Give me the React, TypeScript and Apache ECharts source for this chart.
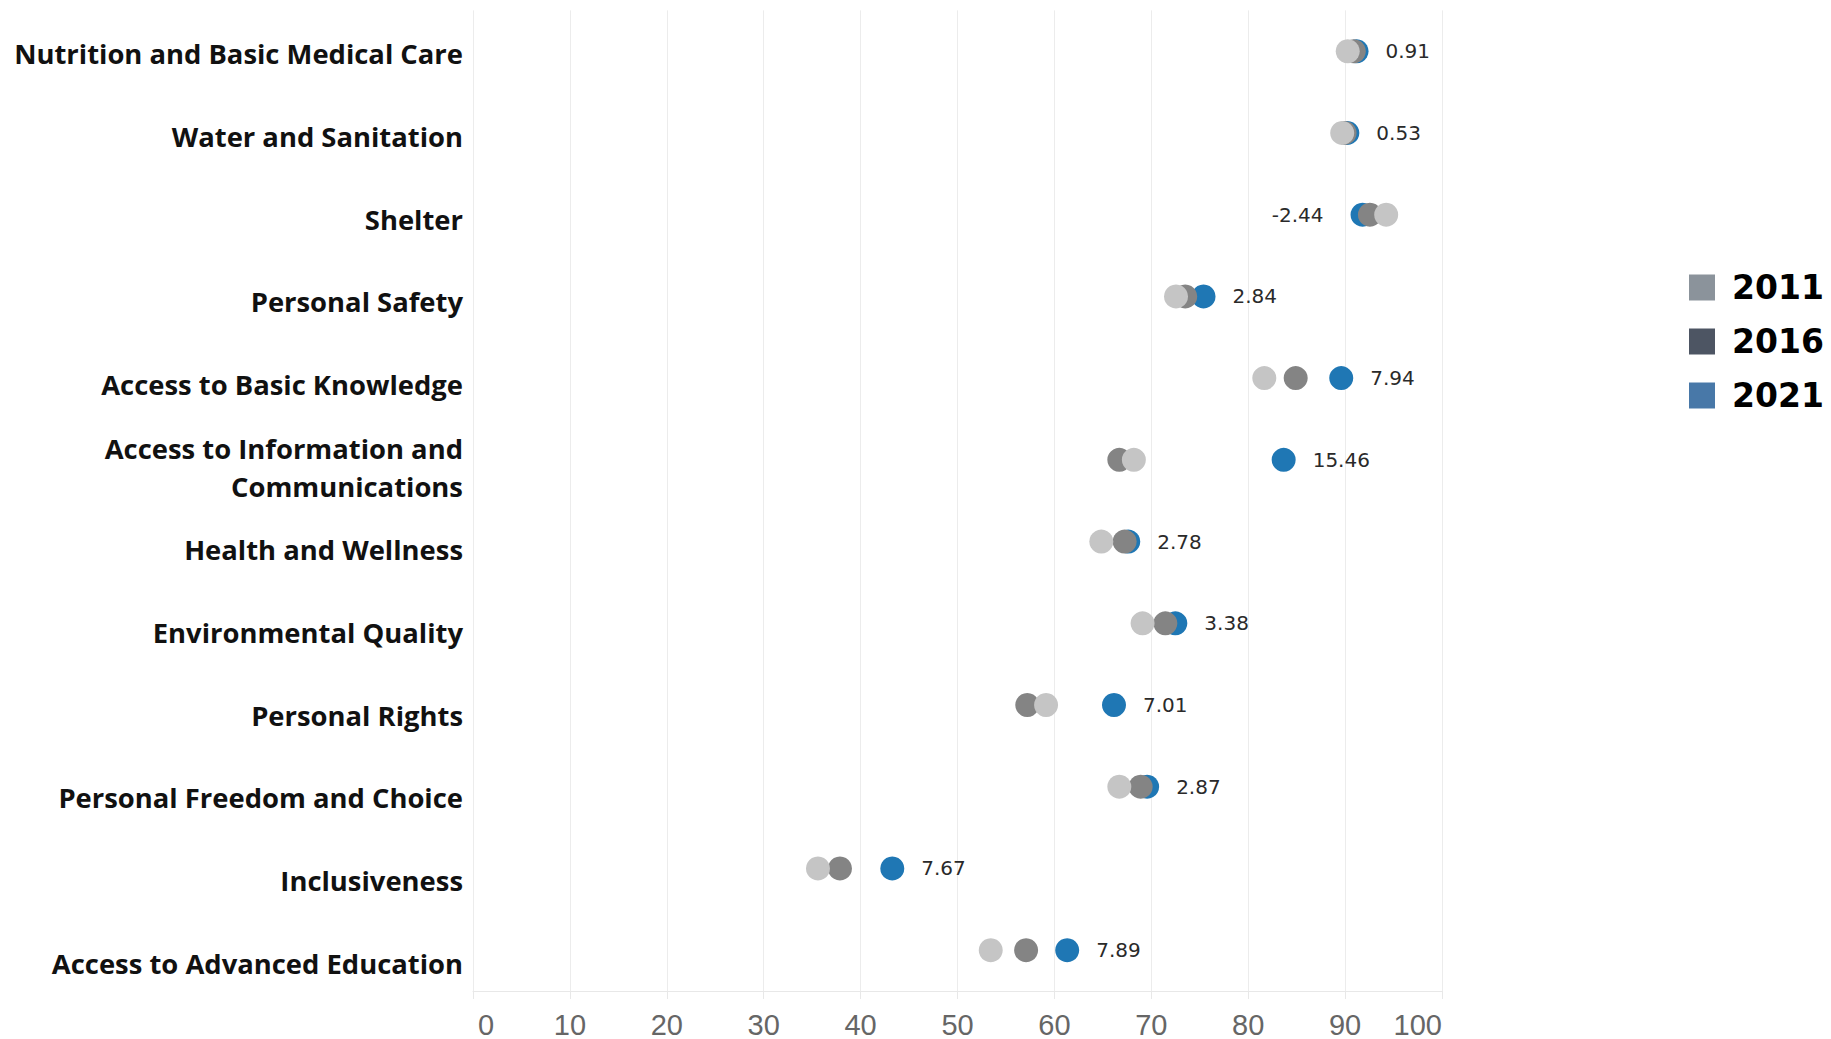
import React, { useEffect, useRef } from "react";
import * as echarts from "echarts";

const categories: string[] = [
  "Nutrition and Basic Medical Care",
  "Water and Sanitation",
  "Shelter",
  "Personal Safety",
  "Access to Basic Knowledge",
  "Access to Information and\nCommunications",
  "Health and Wellness",
  "Environmental Quality",
  "Personal Rights",
  "Personal Freedom and Choice",
  "Inclusiveness",
  "Access to Advanced Education",
];

const values2011: number[] = [90.27, 89.7, 94.24, 72.55, 81.66, 68.2, 64.84, 69.1, 59.14, 66.7, 35.6, 53.43];
const values2016: number[] = [90.9, 89.95, 92.56, 73.5, 84.9, 66.7, 67.25, 71.45, 57.2, 68.9, 37.87, 57.08];
const values2021: number[] = [91.18, 90.23, 91.8, 75.39, 89.6, 83.66, 67.62, 72.48, 66.15, 69.57, 43.27, 61.32];
const changeLabels: string[] = ["0.91", "0.53", "-2.44", "2.84", "7.94", "15.46", "2.78", "3.38", "7.01", "2.87", "7.67", "7.89"];

const years: string[] = ["2011", "2016", "2021"];
const dotColors: string[] = ["#c5c5c5", "#848484", "#1f77b4"];
const legendColors: string[] = ["#8b939b", "#4d5563", "#4878a8"];
const xTicks: number[] = [0, 10, 20, 30, 40, 50, 60, 70, 80, 90, 100];

export default function App() {
  const ref = useRef<HTMLDivElement>(null);

  useEffect(() => {
    document.body.style.margin = "0";
    if (!ref.current) return;
    const chart = echarts.init(ref.current, undefined, { renderer: "svg" });

    const seriesFor = (idx: number) => {
      const vals = [values2011, values2016, values2021][idx];
      const base: any = {
        name: years[idx],
        type: "scatter",
        xAxisIndex: 0,
        yAxisIndex: 0,
        symbol: "circle",
        symbolSize: 24,
        itemStyle: { color: dotColors[idx], opacity: 1 },
        emphasis: { disabled: true },
        data: vals.map((v, i) => [v, categories[i]]),
      };
      if (idx === 2) {
        base.data = vals.map((v, i) => {
          const neg = parseFloat(changeLabels[i]) < 0;
          return {
            value: [v, categories[i]],
            label: {
              show: true,
              position: neg ? "left" : "right",
              distance: neg ? 27 : 17,
              formatter: changeLabels[i],
              color: "#2a2a2a",
              fontSize: 20,
              fontFamily: "'DejaVu Sans', sans-serif",
            },
          };
        });
      }
      return base;
    };

    const gridSide = { left: 473, right: 389 };
    const tickFont = {
      fontSize: 29,
      color: "#666666",
      fontFamily: "'Liberation Sans', Arial, sans-serif",
    };

    chart.setOption({
      animation: false,
      backgroundColor: "#ffffff",
      grid: [
        { ...gridSide, top: 10.4, bottom: 46 },
        { ...gridSide, top: 12.4, bottom: 34.6 },
      ],
      legend: {
        orient: "vertical",
        left: 1684,
        top: 266,
        itemWidth: 26,
        itemHeight: 26,
        itemGap: 21,
        icon: "rect",
        selectedMode: false,
        data: years.map((y, i) => ({ name: y, itemStyle: { color: legendColors[i] } })),
        textStyle: {
          fontFamily: "'DejaVu Sans', sans-serif",
          fontWeight: "bold",
          fontSize: 33,
          color: "#000000",
          padding: [0, 0, 0, 12],
        },
      },
      xAxis: [
        {
          type: "value",
          gridIndex: 0,
          min: xTicks[0],
          max: xTicks[xTicks.length - 1],
          interval: 10,
          axisLine: { show: true, lineStyle: { color: "#e8e8e8", width: 1 } },
          axisTick: { show: true, length: 8, lineStyle: { color: "#e8e8e8" } },
          splitLine: { show: true, lineStyle: { color: "#ececec", width: 1 } },
          axisLabel: {
            margin: 19,
            ...tickFont,
            alignMinLabel: "left",
            alignMaxLabel: "right",
            formatter: (v: number) => (v === xTicks[0] ? "{first|" + v + "}" : String(v)),
            rich: { first: { ...tickFont, padding: [0, 0, 0, 5] } },
          },
        },
        {
          type: "value",
          gridIndex: 1,
          min: 0,
          max: 100,
          show: false,
        },
      ],
      yAxis: [
        {
          type: "category",
          gridIndex: 0,
          inverse: true,
          data: categories,
          axisLine: { show: false },
          axisTick: { show: false },
          splitLine: { show: false },
          axisLabel: { show: false },
        },
        {
          type: "category",
          gridIndex: 1,
          inverse: true,
          data: categories,
          axisLine: { show: false },
          axisTick: { show: false },
          splitLine: { show: false },
          axisLabel: {
            margin: 10,
            fontSize: 27.4,
            fontWeight: "bold",
            color: "#111111",
            lineHeight: 38,
            fontFamily: "'Open Sans', sans-serif",
            align: "right",
          },
        },
      ],
      series: [seriesFor(2), seriesFor(1), seriesFor(0)],
    });

    return () => chart.dispose();
  }, []);

  return <div ref={ref} style={{ width: 1831, height: 1039 }} />;
}
